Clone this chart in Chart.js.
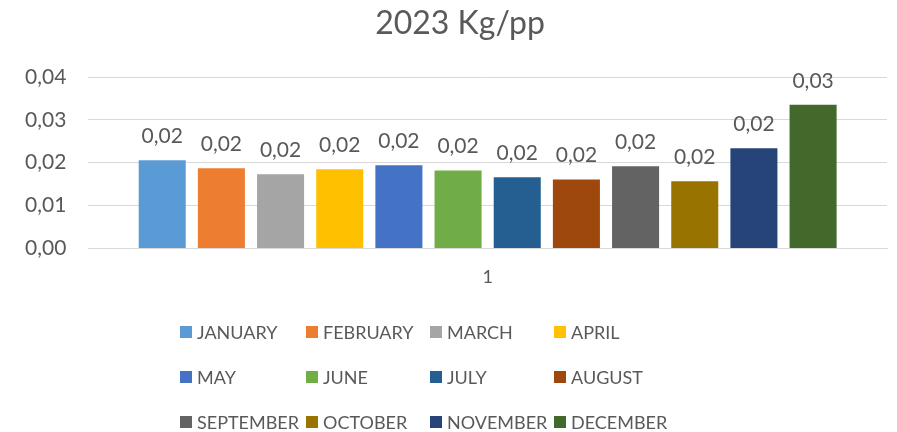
<!DOCTYPE html>
<html>
<head>
<meta charset="utf-8">
<script src="https://cdn.jsdelivr.net/npm/chart.js@4.4.0/dist/chart.umd.min.js"></script>
<style>
  html, body { margin: 0; padding: 0; background: #fff; }
</style>
</head>
<body>
<canvas id="kgChart" width="897" height="432"></canvas>
<script>
// values
const categories = ['1'];
const months = ['JANUARY', 'FEBRUARY', 'MARCH', 'APRIL', 'MAY', 'JUNE',
  'JULY', 'AUGUST', 'SEPTEMBER', 'OCTOBER', 'NOVEMBER', 'DECEMBER'];
const kgPerPerson = [0.0206, 0.0187, 0.0173, 0.0185, 0.0194, 0.0182,
  0.0166, 0.0161, 0.0192, 0.0157, 0.0234, 0.0335];
const monthColors = ['#5B9BD5', '#ED7D31', '#A5A5A5', '#FFC000', '#4472C4', '#70AD47',
  '#255E91', '#9E480E', '#636363', '#997300', '#264478', '#43682B'];
const yTicks = [0, 0.01, 0.02, 0.03, 0.04];
const chartTitle = '2023 Kg/pp';

const textColor = '#595959';
const fontFamily = 'Lato, "Open Sans", sans-serif';

const fmt = v => v.toFixed(2).replace('.', ',');

// title sits a little right of centre in the original, so draw it by hand
const titleText = {
  id: 'titleText',
  afterDraw(chart) {
    const ctx = chart.ctx;
    ctx.save();
    ctx.fillStyle = textColor;
    ctx.font = '32px ' + fontFamily;
    ctx.textAlign = 'center';
    ctx.textBaseline = 'alphabetic';
    ctx.fillText(chartTitle, 460, 34);
    ctx.restore();
  }
};

// value labels above each bar
const valueLabels = {
  id: 'valueLabels',
  afterDatasetsDraw(chart) {
    const ctx = chart.ctx;
    ctx.save();
    ctx.fillStyle = textColor;
    ctx.font = '21px ' + fontFamily;
    ctx.textAlign = 'center';
    ctx.textBaseline = 'alphabetic';
    chart.data.datasets.forEach((ds, i) => {
      chart.getDatasetMeta(i).data.forEach((bar, j) => {
        ctx.fillText(fmt(ds.data[j]), bar.x, bar.y - 17);
      });
    });
    ctx.restore();
  }
};

// legend laid out as a 4-column grid, like the original
const gridLegend = {
  id: 'gridLegend',
  afterDraw(chart) {
    const ctx = chart.ctx;
    const colLeft = [180, 306, 430, 554];
    const rowY = [332, 377, 422];
    ctx.save();
    ctx.font = '18px ' + fontFamily;
    ctx.textBaseline = 'middle';
    ctx.textAlign = 'left';
    chart.data.datasets.forEach((ds, i) => {
      const x = colLeft[i % 4];
      const y = rowY[Math.floor(i / 4)];
      ctx.fillStyle = ds.backgroundColor;
      ctx.fillRect(x, y - 6, 12, 12);
      ctx.fillStyle = textColor;
      ctx.fillText(ds.label, x + 17, y + 1);
    });
    ctx.restore();
  }
};

const ctx = document.getElementById('kgChart').getContext('2d');
new Chart(ctx, {
  type: 'bar',
  data: {
    labels: categories,
    datasets: months.map((m, i) => ({
      label: m,
      data: [kgPerPerson[i]],
      backgroundColor: monthColors[i]
    }))
  },
  options: {
    responsive: false,
    animation: false,
    categoryPercentage: 0.889,
    barPercentage: 0.795,
    layout: { padding: { left: 3, right: 10, top: 77, bottom: 134 } },
    plugins: {
      legend: { display: false },
      tooltip: { enabled: false },
      title: { display: false }
    },
    scales: {
      x: {
        grid: { display: false },
        border: { color: '#D9D9D9', width: 1 },
        ticks: { color: textColor, font: { family: fontFamily, size: 18 }, padding: 10 }
      },
      y: {
        min: 0,
        max: 0.04,
        afterBuildTicks: axis => { axis.ticks = yTicks.map(v => ({ value: v })); },
        grid: { color: '#D9D9D9', drawTicks: false },
        border: { display: false },
        ticks: {
          color: textColor,
          font: { family: fontFamily, size: 21 },
          padding: 22,
          callback: v => fmt(v)
        }
      }
    }
  },
  plugins: [titleText, valueLabels, gridLegend]
});
</script>
</body>
</html>
